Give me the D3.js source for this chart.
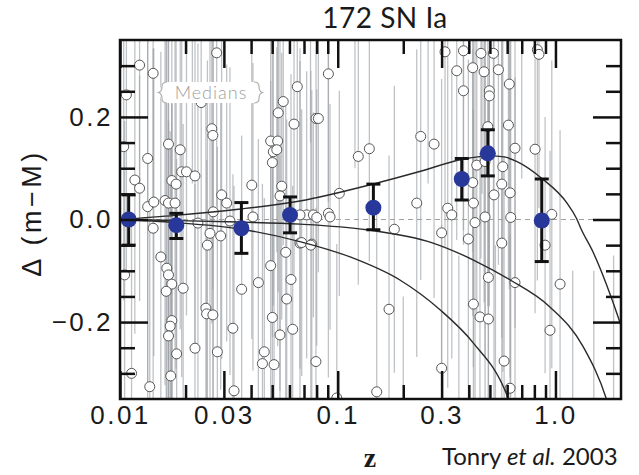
<!DOCTYPE html>
<html>
<head>
<meta charset="utf-8">
<script src="https://cdn.jsdelivr.net/npm/d3@7"></script>
<style>
body { margin: 0; background: #fff; }
svg { display: block; }
</style>
</head>
<body>
<svg id="chart" width="639" height="475"></svg>
<script>

// individual SN Ia: redshift, delta(m-M), error
var snZ = [
  0.0123, 0.0142, 0.0278, 0.0107, 0.0236, 0.0652, 0.0562, 0.0533, 0.0795, 0.0630,
  0.0264, 0.0267, 0.0167, 0.0189, 0.0492, 0.0530, 0.0506, 0.0525, 0.0501, 0.0134,
  0.0117, 0.0123, 0.0192, 0.0202, 0.0221, 0.0173, 0.0181, 0.0403, 0.0553, 0.0543,
  0.0293, 0.0309, 0.0134, 0.0143, 0.0161, 0.0167, 0.0179, 0.0268, 0.0320, 0.0720,
  0.0773, 0.0906, 0.0815, 0.311, 0.378, 0.455, 0.519, 0.826, 0.840, 0.352,
  0.417, 0.470, 0.547, 0.378, 0.614, 0.497, 0.497, 0.608, 0.489, 0.2405,
  0.277, 0.1243, 0.1397, 0.652, 0.806, 0.435, 0.475, 0.573, 0.567, 0.619,
  0.522, 0.417, 0.1017, 0.2306, 0.320, 0.334, 0.420, 0.0671, 0.0801, 0.0906,
  0.0922, 0.427, 0.475, 0.623, 0.962, 0.182, 0.300, 0.398, 0.567, 0.896,
  0.492, 0.652, 1.05, 0.420, 0.450, 0.492, 0.172, 0.944, 0.0794, 0.300,
  0.581, 0.151, 0.619, 0.0671, 0.0760, 0.0142, 0.0259, 0.0290, 0.0252, 0.0154,
  0.0164, 0.0167, 0.0173, 0.0163, 0.0195, 0.0105, 0.0683, 0.0752, 0.0577, 0.0492,
  0.0432, 0.0610, 0.0362, 0.0583, 0.0248, 0.0250, 0.0267, 0.0501, 0.0173, 0.0170,
  0.0167, 0.0330, 0.0621, 0.0543, 0.0221, 0.0280, 0.0182, 0.0460, 0.0451, 0.0510,
  0.0113, 0.0171, 0.0137, 0.0334, 0.0104, 0.0228, 0.0990, 0.0408,
  0.0215, 0.075, 0.12, 0.20, 0.26, 0.36, 0.46, 0.53, 0.70, 1.2, 1.5, 1.85
];
var snDelta = [
  0.301, 0.285, 0.325, 0.243, 0.228, 0.259, 0.230, 0.208, 0.197, 0.186,
  0.177, 0.164, 0.147, 0.136, 0.153, 0.153, 0.132, 0.136, 0.111, 0.119,
  0.077, 0.061, 0.093, 0.093, 0.085, 0.076, 0.069, 0.067, 0.065, 0.046,
  0.048, 0.032, 0.025, 0.034, 0.037, 0.032, 0.032, 0.015, -0.003, 0.009,
  0.009, 0.284, 0.197, 0.327, 0.329, 0.324, 0.324, 0.331, 0.322, 0.290,
  0.296, 0.288, 0.292, 0.251, 0.264, 0.251, 0.241, 0.184, 0.181, 0.162,
  0.147, 0.123, 0.138, 0.139, 0.137, 0.106, 0.113, 0.103, 0.069, 0.052,
  0.048, 0.072, 0.051, 0.032, 0.022, 0.009, 0.032, 0.009, 0.004, 0.012,
  0.005, -0.006, 0.005, 0.004, 0.010, -0.019, -0.026, -0.038, -0.046, -0.050,
  -0.113, -0.123, -0.126, -0.165, -0.190, -0.194, -0.175, -0.216, -0.277, -0.290,
  -0.276, -0.336, -0.329, -0.046, -0.048, -0.017, -0.027, -0.032, -0.050, -0.073,
  -0.095, -0.108, -0.126, -0.140, -0.134, -0.108, -0.045, -0.050, -0.064, -0.090,
  -0.123, -0.117, -0.136, -0.155, -0.173, -0.184, -0.186, -0.191, -0.197, -0.208,
  -0.227, -0.212, -0.214, -0.225, -0.251, -0.258, -0.262, -0.258, -0.281, -0.283,
  -0.300, -0.305, -0.326, -0.334, 0.142, -0.007, -0.348, 0.005,
  0.42, 0.45, 0.40, -0.45, 0.42, -0.42, 0.40, -0.40, 0.38, -0.45, -0.40, -0.42
];
var snErr = [
  0.30, 0.25, 0.30, 0.35, 0.40, 0.22, 0.28, 0.35, 0.15, 0.30,
  0.38, 0.30, 0.42, 0.35, 0.25, 0.40, 0.30, 0.20, 0.34, 0.45,
  0.30, 0.22, 0.40, 0.28, 0.33, 0.50, 0.36, 0.30, 0.26, 0.38,
  0.32, 0.27, 0.42, 0.30, 0.36, 0.44, 0.33, 0.40, 0.30, 0.28,
  0.20, 0.25, 0.30, 0.38, 0.35, 0.40, 0.42, 0.45, 0.30, 0.33,
  0.36, 0.45, 0.38, 0.30, 0.40, 0.42, 0.35, 0.30, 0.35, 0.28,
  0.30, 0.25, 0.22, 0.35, 0.32, 0.30, 0.38, 0.40, 0.30, 0.36,
  0.42, 0.26, 0.20, 0.30, 0.35, 0.28, 0.32, 0.30, 0.25, 0.32,
  0.22, 0.38, 0.40, 0.35, 0.30, 0.28, 0.30, 0.35, 0.40, 0.25,
  0.35, 0.40, 0.30, 0.38, 0.32, 0.42, 0.30, 0.35, 0.30, 0.28,
  0.40, 0.35, 0.30, 0.38, 0.30, 0.35, 0.40, 0.30, 0.36, 0.40,
  0.45, 0.30, 0.35, 0.50, 0.32, 0.30, 0.26, 0.34, 0.30, 0.36,
  0.28, 0.40, 0.30, 0.35, 0.40, 0.30, 0.34, 0.30, 0.45, 0.38,
  0.42, 0.30, 0.28, 0.35, 0.32, 0.40, 0.38, 0.30, 0.35, 0.28,
  0.30, 0.45, 0.35, 0.40, 0.30, 0.35, 0.30, 0.30,
  0.35, 0.30, 0.30, 0.30, 0.35, 0.35, 0.35, 0.35, 0.30, 0.35, 0.30, 0.35
];

// binned medians
var medZ = [0.01096, 0.01814, 0.0361, 0.0604, 0.1458, 0.3712, 0.489, 0.865];
var medDelta = [0.0, -0.011, -0.017, 0.009, 0.023, 0.079, 0.129, -0.002];
var medHi = [0.048, 0.012, 0.033, 0.044, 0.069, 0.119, 0.175, 0.079];
var medLo = [-0.050, -0.037, -0.066, -0.026, -0.020, 0.038, 0.085, -0.082];

// model curves
var modelTopZ = [0.01, 0.018, 0.035, 0.067, 0.145, 0.24, 0.37, 0.5, 0.58, 0.666, 0.867, 1.13, 1.25, 1.31, 1.49, 1.72, 1.94, 2.0];
var modelTopD = [0, 0.008, 0.02, 0.036, 0.069, 0.094, 0.117, 0.124, 0.122, 0.113, 0.080, 0.032, 0.002, -0.018, -0.064, -0.128, -0.19, -0.207];
var modelMidZ = [0.01, 0.018, 0.035, 0.067, 0.136, 0.274, 0.42, 0.62, 0.94, 1.34, 1.72, 1.8];
var modelMidD = [0, -0.002, -0.005, -0.009, -0.020, -0.046, -0.079, -0.118, -0.170, -0.248, -0.352, -0.38];
var modelLowZ = [0.01, 0.018, 0.035, 0.067, 0.114, 0.193, 0.295, 0.42, 0.594, 0.62];
var modelLowD = [0, -0.006, -0.018, -0.043, -0.073, -0.118, -0.176, -0.241, -0.339, -0.36];

var xMajor = [0.01, 0.03, 0.1, 0.3, 1.0];
var xMajorLabels = ["0.01", "0.03", "0.1", "0.3", "1.0"];
var xMinor = [0.02, 0.04, 0.05, 0.06, 0.07, 0.08, 0.09, 0.2, 0.4, 0.5, 0.6, 0.7, 0.8, 0.9];
var yMajor = [-0.2, 0, 0.2];
var yMajorLabels = ["\u22120.2", "0.0", "0.2"];
var yMinor = [-0.3, -0.25, -0.15, -0.1, -0.05, 0.05, 0.1, 0.15, 0.25, 0.3];

var padL = 120, padR = 621, padT = 40, padB = 399;

var svg = d3.select('#chart');
svg.append('rect').attr('width', 639).attr('height', 475).attr('fill', '#fff');

var x = d3.scaleLog().domain([0.01, 2]).range([padL, padR]);
var y = d3.scaleLinear().domain([-0.35, 0.35]).range([padB, padT]);

svg.append('clipPath').attr('id', 'plotclip')
  .append('rect').attr('x', padL).attr('y', padT).attr('width', padR - padL).attr('height', padB - padT);

var plot = svg.append('g').attr('clip-path', 'url(#plotclip)');

var sn = snZ.map(function (z, i) {
  return { z: z, d: snDelta[i], e: snErr[i] };
});

// grey error bars
plot.selectAll('line.snerr')
  .data(sn)
  .enter()
  .append('line')
  .attr('class', 'snerr')
  .attr('x1', function (d) { return x(d.z); })
  .attr('x2', function (d) { return x(d.z); })
  .attr('y1', function (d) { return y(d.d + d.e); })
  .attr('y2', function (d) { return y(d.d - d.e); })
  .attr('stroke', '#9ea3a8')
  .attr('stroke-opacity', 0.65)
  .attr('stroke-width', 1.3);

// zero line
plot.append('line')
  .attr('x1', padL).attr('x2', padR)
  .attr('y1', y(0)).attr('y2', y(0))
  .attr('stroke', '#a0a0a0')
  .attr('stroke-width', 1.2)
  .attr('stroke-dasharray', '5,4');

plot.selectAll('circle.sn')
  .data(sn)
  .enter()
  .append('circle')
  .attr('class', 'sn')
  .attr('cx', function (d) { return x(d.z); })
  .attr('cy', function (d) { return y(d.d); })
  .attr('r', 5)
  .attr('fill', '#fff')
  .attr('stroke', '#555')
  .attr('stroke-width', 1);

// Medians label
var mb = plot.append('g');
mb.append('path')
  .attr('d', 'M167,82 H254 Q261,82 261,92.5 Q261,103 254,103 H167 Q160,103 160,92.5 Q160,82 167,82 Z')
  .attr('fill', '#fff');
mb.append('path')
  .attr('d', 'M167,82 Q162,82 162,86.5 Q162,91.5 158.5,92.5 Q162,93.5 162,98.5 Q162,103 167,103')
  .attr('fill', 'none').attr('stroke', '#b0b0b0').attr('stroke-width', 1.2);
mb.append('path')
  .attr('d', 'M254,82 Q259,82 259,86.5 Q259,91.5 262.5,92.5 Q259,93.5 259,98.5 Q259,103 254,103')
  .attr('fill', 'none').attr('stroke', '#b0b0b0').attr('stroke-width', 1.2);
mb.append('text')
  .attr('x', 211).attr('y', 98.5)
  .attr('text-anchor', 'middle')
  .attr('font-family', 'Lato, "Noto Sans", sans-serif')
  .attr('font-weight', 300)
  .attr('font-size', 18)
  .attr('letter-spacing', 1)
  .attr('fill', '#a0a0a0')
  .text('Medians');

// model curves
var line = d3.line()
  .x(function (d) { return x(d[0]); })
  .y(function (d) { return y(d[1]); })
  .curve(d3.curveMonotoneX);

[[modelTopZ, modelTopD], [modelMidZ, modelMidD], [modelLowZ, modelLowD]].forEach(function (m) {
  plot.append('path')
    .datum(d3.zip(m[0], m[1]))
    .attr('d', line)
    .attr('fill', 'none')
    .attr('stroke', '#2a2a2a')
    .attr('stroke-width', 1.4);
});

// medians with error bars
var med = medZ.map(function (z, i) {
  return { z: z, d: medDelta[i], hi: medHi[i], lo: medLo[i] };
});

var mg = plot.selectAll('g.med')
  .data(med)
  .enter()
  .append('g')
  .attr('class', 'med');

mg.append('line')
  .attr('x1', function (d) { return x(d.z); })
  .attr('x2', function (d) { return x(d.z); })
  .attr('y1', function (d) { return y(d.hi); })
  .attr('y2', function (d) { return y(d.lo); })
  .attr('stroke', '#111').attr('stroke-width', 3);
mg.append('line')
  .attr('x1', function (d) { return x(d.z) - 7; })
  .attr('x2', function (d) { return x(d.z) + 7; })
  .attr('y1', function (d) { return y(d.hi); })
  .attr('y2', function (d) { return y(d.hi); })
  .attr('stroke', '#111').attr('stroke-width', 3);
mg.append('line')
  .attr('x1', function (d) { return x(d.z) - 7; })
  .attr('x2', function (d) { return x(d.z) + 7; })
  .attr('y1', function (d) { return y(d.lo); })
  .attr('y2', function (d) { return y(d.lo); })
  .attr('stroke', '#111').attr('stroke-width', 3);
mg.append('circle')
  .attr('cx', function (d) { return x(d.z); })
  .attr('cy', function (d) { return y(d.d); })
  .attr('r', 8)
  .attr('fill', '#27379a');

// axes, ticks pointing inward
function styleAxis(g) {
  g.select('.domain').remove();
  g.selectAll('.tick line').attr('stroke', '#111').attr('stroke-width', 2.5);
  g.attr('font-family', '"Liberation Sans", Arial, sans-serif').attr('font-size', 26);
  g.selectAll('.tick text').attr('fill', '#1a1a1a').attr('letter-spacing', 2.5);
}

svg.append('g').attr('transform', 'translate(0,' + padB + ')')
  .call(d3.axisBottom(x).tickValues(xMajor).tickSize(-28).tickPadding(7)
    .tickFormat(function (d, i) { return xMajorLabels[i]; }))
  .call(styleAxis);
svg.append('g').attr('transform', 'translate(0,' + padB + ')')
  .call(d3.axisBottom(x).tickValues(xMinor).tickSize(-14).tickFormat(''))
  .call(styleAxis);
svg.append('g').attr('transform', 'translate(0,' + padT + ')')
  .call(d3.axisTop(x).tickValues(xMajor).tickSize(-28).tickFormat(''))
  .call(styleAxis);
svg.append('g').attr('transform', 'translate(0,' + padT + ')')
  .call(d3.axisTop(x).tickValues(xMinor).tickSize(-14).tickFormat(''))
  .call(styleAxis);

svg.append('g').attr('transform', 'translate(' + padL + ',0)')
  .call(d3.axisLeft(y).tickValues(yMajor).tickSize(-28).tickPadding(7)
    .tickFormat(function (d, i) { return yMajorLabels[i]; }))
  .call(styleAxis);
svg.append('g').attr('transform', 'translate(' + padL + ',0)')
  .call(d3.axisLeft(y).tickValues(yMinor).tickSize(-15).tickFormat(''))
  .call(styleAxis);
svg.append('g').attr('transform', 'translate(' + padR + ',0)')
  .call(d3.axisRight(y).tickValues(yMajor).tickSize(-28).tickFormat(''))
  .call(styleAxis);
svg.append('g').attr('transform', 'translate(' + padR + ',0)')
  .call(d3.axisRight(y).tickValues(yMinor).tickSize(-15).tickFormat(''))
  .call(styleAxis);

svg.append('rect')
  .attr('x', padL).attr('y', padT)
  .attr('width', padR - padL).attr('height', padB - padT)
  .attr('fill', 'none')
  .attr('stroke', '#111')
  .attr('stroke-width', 2.5);

// titles
svg.append('text')
  .attr('x', 385).attr('y', 28)
  .attr('text-anchor', 'middle')
  .attr('font-family', 'Lato, "Noto Sans", sans-serif')
  .attr('font-size', 28)
  .attr('letter-spacing', 0.5)
  .attr('fill', '#1a1a1a')
  .text('172 SN Ia');

svg.append('text')
  .attr('transform', 'translate(41,213) rotate(-90)')
  .attr('text-anchor', 'middle')
  .attr('font-family', '"Liberation Sans", Arial, sans-serif')
  .attr('font-size', 27)
  .attr('letter-spacing', 3.5)
  .attr('fill', '#1a1a1a')
  .text('\u0394 (m\u2212M)');

svg.append('text')
  .attr('x', 370).attr('y', 467)
  .attr('text-anchor', 'middle')
  .attr('font-family', '"Liberation Serif", "DejaVu Serif", serif')
  .attr('font-weight', 'bold')
  .attr('font-size', 28)
  .attr('fill', '#1a1a1a')
  .text('z');

var credit = svg.append('text')
  .attr('x', 442).attr('y', 465)
  .attr('font-family', 'Lato, "Noto Sans", sans-serif')
  .attr('font-size', 24)
  .attr('fill', '#1a1a1a');
credit.append('tspan').text('Tonry ');
credit.append('tspan').attr('font-style', 'italic').text('et al.');
credit.append('tspan').text(' 2003');

</script>
</body>
</html>
